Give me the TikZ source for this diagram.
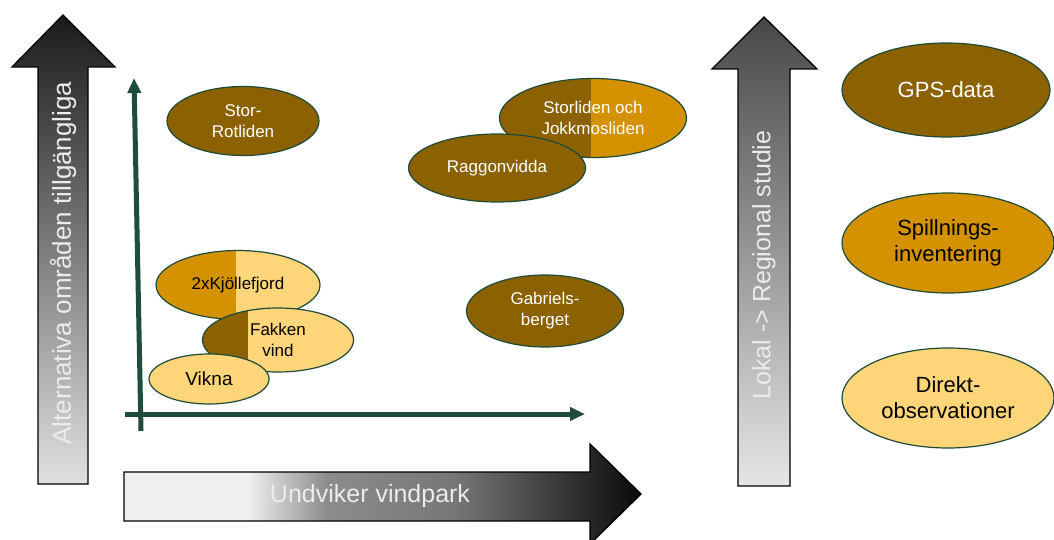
\documentclass[tikz,border=0pt]{standalone}
\usepackage{fontspec}
\setmainfont{Liberation Sans}
\usetikzlibrary{shapes.geometric,arrows.meta,calc}
\definecolor{dbrown}{HTML}{8C6200}
\definecolor{orng}{HTML}{D49200}
\definecolor{lyel}{HTML}{FFD579}
\definecolor{dgreen}{HTML}{1E4A38}
\definecolor{axgreen}{HTML}{1F4D3C}
\definecolor{shA}{HTML}{EFEFEF}
\definecolor{shB}{HTML}{8C8C8C}
\definecolor{shC}{HTML}{777777}
\definecolor{shD}{HTML}{3C3C3C}
\definecolor{shE}{HTML}{0A0A0A}
\definecolor{arrtext}{HTML}{ECECEC}
\pgfdeclarehorizontalshading{undvik}{100bp}{color(0bp)=(shA); color(37bp)=(shA); color(44.6bp)=(shB); color(56.8bp)=(shC); color(66.5bp)=(shD); color(75bp)=(shE); color(100bp)=(shE)}
\tikzset{
  ell/.style={ellipse, draw=dgreen, line width=1.2pt, inner sep=0pt, align=center},
  etext/.style={font=\fontsize{17}{21}\selectfont},
  rtext/.style={font=\fontsize{22}{26}\selectfont},
  splitfill/.style args={#1 at #2}{path picture={\fill[#1] ($(path picture bounding box.south west)!#2!(path picture bounding box.south east)$) rectangle (path picture bounding box.north east);}},
  bigarrow/.style={draw=black, line width=1.3pt},
  axis/.style={draw=axgreen, line width=5pt, -{Triangle[length=15pt,width=13pt]}},
  arrlabel/.style={text=arrtext},
}
\begin{document}
\begin{tikzpicture}[x=1pt,y=-1pt]
\useasboundingbox (0,0) rectangle (1054,540);
% big gradient arrows
\shade[bigarrow, top color=black!90, bottom color=black!12]
  (38,484) -- (38,67) -- (12,67) -- (63,15) -- (115,67) -- (88,67) -- (88,484) -- cycle;
\node[arrlabel, rotate=90, font=\fontsize{26}{30}\selectfont] (lt) at (63,263) {Alternativa områden tillgängliga};
\shade[bigarrow, top color=black!72, bottom color=black!10]
  (738,486) -- (738,69) -- (712,69) -- (764,17) -- (817,69) -- (790,69) -- (790,486) -- cycle;
\node[arrlabel, rotate=90, font=\fontsize{25}{30}\selectfont] (rt) at (764,265) {Lokal -> Regional studie};
\shade[bigarrow, shading=undvik]
  (124,472) -- (590,472) -- (590,444) -- (641,494) -- (590,544) -- (590,521) -- (124,521) -- cycle;
\node[arrlabel, font=\fontsize{25}{30}\selectfont] (bt) at (370,496) {Undviker vindpark};
% axes
\coordinate (yb) at (141,431);
\coordinate (yt) at (134,78);
\coordinate (xl) at (125,414);
\coordinate (xr) at (585,414);
\draw[axis] (yb) -- (yt);
\draw[axis] (xl) -- (xr);
% ellipses in chart
\node[ell, fill=dbrown, text=white, etext, minimum width=152pt, minimum height=69pt] (stor) at (243,121) {Stor-\\Rotliden};
\node[ell, fill=dbrown, splitfill=orng at 0.49, text=white, etext, minimum width=187pt, minimum height=79pt] (storl) at (593,118) {Storliden och\\Jokkmosliden};
\node[ell, fill=dbrown, text=white, etext, minimum width=177pt, minimum height=68pt] (ragg) at (497,168) {Raggonvidda};
\node[ell, fill=dbrown, text=white, etext, minimum width=157pt, minimum height=72pt] (gab) at (545,311) {Gabriels-\\berget};
\node[ell, fill=orng, splitfill=lyel at 0.49, text=black, etext, minimum width=164pt, minimum height=69pt] (kjol) at (238,285) {2xKjöllefjord};
\node[ell, fill=dbrown, splitfill=lyel at 0.3, text=black, etext, minimum width=151pt, minimum height=64pt] (fak) at (278,340) {Fakken\\vind};
\node[ell, fill=lyel, text=black, font=\fontsize{19}{22}\selectfont, minimum width=120pt, minimum height=50pt] (vik) at (209,379) {Vikna};
% right ellipses
\node[ell, fill=dbrown, text=white, rtext, minimum width=208pt, minimum height=94pt] (gps) at (946,90) {GPS-data};
\node[ell, fill=orng, text=black, rtext, minimum width=212pt, minimum height=100pt] (spill) at (948,243) {Spillnings-\\inventering};
\node[ell, fill=lyel, text=black, rtext, minimum width=212pt, minimum height=100pt] (dir) at (948,398) {Direkt-\\observationer};
\end{tikzpicture}
\end{document}
